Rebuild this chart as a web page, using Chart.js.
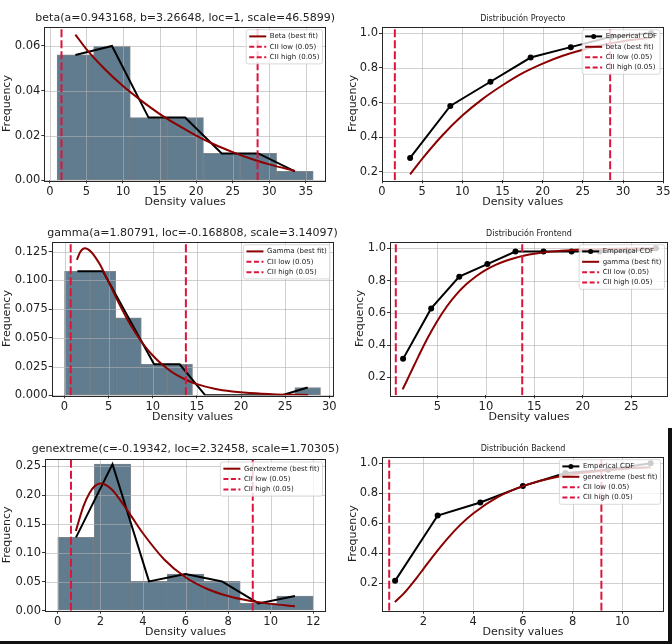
<!DOCTYPE html>
<html>
<head>
<meta charset="utf-8">
<script src="https://cdn.jsdelivr.net/npm/chart.js@4.4.1/dist/chart.umd.min.js"></script>
<style>
  body { margin: 0; background: #fff; }
  #wrap { position: relative; width: 672px; height: 644px; overflow: hidden; }
  #wrap canvas { position: absolute; }
  .edge { position: absolute; background: #111; }
</style>
</head>
<body>
<div id="wrap">
  <div class="edge" style="left:668px;top:428px;width:4px;height:216px"></div>
  <div class="edge" style="left:0;top:641px;width:672px;height:3px"></div>
</div>
<script>
// --- Proyecto (beta) ---
var projCenters = [3.5, 8.5, 13.5, 18.5, 23.5, 28.5, 33.5];
var projFreq = [0.056, 0.060, 0.028, 0.028, 0.012, 0.012, 0.004];
var projCdf = [0.28, 0.58, 0.72, 0.86, 0.92, 0.98, 1.0];
var projFitX = [3.5, 5, 7.5, 10, 12.5, 15, 17.5, 20, 22.5, 25, 27.5, 30, 33.5];
var projFitPdf = [0.0651, 0.0586, 0.0497, 0.0421, 0.0356, 0.0297, 0.0246, 0.0200, 0.0160, 0.0126, 0.0096, 0.0071, 0.0042];
var projFitCdf = [0.185, 0.275, 0.41, 0.525, 0.62, 0.70, 0.77, 0.825, 0.87, 0.905, 0.932, 0.954, 0.974];
var projCII = [1.6, 28.4];

// --- Frontend (gamma) ---
var frontCenters = [1.45, 4.35, 7.25, 10.15, 13.05, 15.95, 18.85, 21.75, 24.65, 27.55];
var frontFreq = [0.108, 0.108, 0.0675, 0.027, 0.027, 0, 0, 0, 0, 0.0068];
var frontCdf = [0.314, 0.627, 0.824, 0.902, 0.980, 0.980, 0.980, 0.980, 0.980, 1.0];
var frontFitX = [1.4, 1.8, 2.3, 3, 4, 5, 6, 7, 8, 9, 10, 11, 12, 13, 14, 15, 17, 19, 21, 24, 27.6];
var frontFitPdf = [0.118, 0.125, 0.128, 0.125, 0.114, 0.0985, 0.0826, 0.0678, 0.0549, 0.0438, 0.0346, 0.0272, 0.0212, 0.0164, 0.0127, 0.0097, 0.0057, 0.0033, 0.0019, 0.0008, 0.0003];
var frontFitCdf = [0.125, 0.174, 0.237, 0.325, 0.445, 0.551, 0.642, 0.717, 0.778, 0.827, 0.866, 0.897, 0.921, 0.940, 0.955, 0.966, 0.981, 0.989, 0.994, 0.997, 0.999];
var frontCII = [0.7, 13.75];

// --- Backend (genextreme) ---
var backCenters = [0.857, 2.571, 4.286, 6.0, 7.714, 9.429, 11.143];
var backFreq = [0.1268, 0.2536, 0.0507, 0.0634, 0.0507, 0.0127, 0.0254];
var backCdf = [0.217, 0.652, 0.739, 0.848, 0.935, 0.957, 1.0];
var backFitX = [0.85, 1.2, 1.5, 1.75, 2.0, 2.5, 3.0, 3.5, 4.0, 5.0, 6.0, 7.0, 8.0, 9.0, 10.0, 11.14];
var backFitPdf = [0.138, 0.180, 0.204, 0.216, 0.220, 0.211, 0.188, 0.161, 0.134, 0.0887, 0.0579, 0.0380, 0.0253, 0.0171, 0.0118, 0.0079];
var backFitCdf = [0.076, 0.132, 0.190, 0.242, 0.297, 0.405, 0.505, 0.593, 0.666, 0.776, 0.848, 0.895, 0.927, 0.947, 0.962, 0.973];
var backCII = [0.62, 9.16];

// tick labels
var projXTicks = [0, 5, 10, 15, 20, 25, 30, 35];
var projPdfYTicks = [0, 0.02, 0.04, 0.06];
var frontPdfXTicks = [0, 5, 10, 15, 20, 25, 30];
var frontCdfXTicks = [5, 10, 15, 20, 25];
var frontPdfYTicks = [0, 0.025, 0.05, 0.075, 0.1, 0.125];
var backPdfXTicks = [0, 2, 4, 6, 8, 10, 12];
var backCdfXTicks = [2, 4, 6, 8, 10];
var backPdfYTicks = [0, 0.05, 0.1, 0.15, 0.2, 0.25];
var cdfYTicks = [0.2, 0.4, 0.6, 0.8, 1.0];

Chart.defaults.font.family = "'DejaVu Sans', sans-serif";
Chart.defaults.color = '#222';

var BAR = '#607c8e', FIT = '#8b0000', CII = '#dc143c';
var wrap = document.getElementById('wrap');

function pts(xs, ys) {
  return xs.map(function (x, i) { return { x: x, y: ys[i] }; });
}

function ciiSets(c, yr) {
  return c.map(function (v, i) {
    return { type: 'line', data: [{ x: v, y: yr[0] }, { x: v, y: yr[1] }], borderColor: CII,
      borderWidth: 2, borderDash: [8, 3], pointRadius: 0, showLine: true, order: 1 - i };
  });
}

function pdfSets(centers, freq, fx, fy, c, yr) {
  return [
    { type: 'bar', data: pts(centers, freq), backgroundColor: BAR, borderColor: 'rgba(70,80,90,0.7)',
      borderWidth: 1, borderSkipped: false, barPercentage: 1, categoryPercentage: 1, order: 10 },
    { type: 'line', data: pts(centers, freq), borderColor: '#000', borderWidth: 2, pointRadius: 0,
      tension: 0, showLine: true, order: 3 },
    { type: 'line', data: pts(fx, fy), borderColor: FIT, borderWidth: 2, pointRadius: 0,
      cubicInterpolationMode: 'monotone', showLine: true, order: 2 }
  ].concat(ciiSets(c, yr));
}

function cdfSets(centers, cdf, fx, fy, c, yr) {
  return [
    { type: 'line', data: pts(centers, cdf), borderColor: '#000', borderWidth: 2, pointRadius: 3,
      pointBackgroundColor: '#000', pointBorderWidth: 0, tension: 0, showLine: true, order: 3 },
    { type: 'line', data: pts(fx, fy), borderColor: FIT, borderWidth: 2, pointRadius: 0,
      cubicInterpolationMode: 'monotone', showLine: true, order: 2 }
  ].concat(ciiSets(c, yr));
}

function legendItems(fitLabel, withCdf) {
  var items = [];
  if (withCdf) items.push({ label: 'Emperical CDF', color: '#000', marker: true });
  items.push({ label: fitLabel, color: FIT });
  items.push({ label: 'CII low (0.05)', color: CII, dash: [5, 2.5] });
  items.push({ label: 'CII high (0.05)', color: CII, dash: [5, 2.5] });
  return items;
}

function drawGrid(chart) {
  var ctx = chart.ctx, a = chart.chartArea, x = chart.scales.x, y = chart.scales.y;
  ctx.save();
  ctx.strokeStyle = 'rgba(176,176,176,0.6)';
  ctx.lineWidth = 1;
  ctx.beginPath();
  x.ticks.forEach(function (t) {
    var px = Math.round(x.getPixelForValue(t.value)) + 0.5;
    ctx.moveTo(px, a.top); ctx.lineTo(px, a.bottom);
  });
  y.ticks.forEach(function (t) {
    var py = Math.round(y.getPixelForValue(t.value)) + 0.5;
    ctx.moveTo(a.left, py); ctx.lineTo(a.right, py);
  });
  ctx.stroke();
  ctx.restore();
}

function drawLegend(chart, items) {
  var ctx = chart.ctx, a = chart.chartArea;
  ctx.save();
  ctx.font = "7px 'DejaVu Sans'";
  var tw = Math.max.apply(null, items.map(function (it) { return ctx.measureText(it.label).width; }));
  var rowH = 10.4, padY = 6.7;
  var w = 3 + 17 + 3.5 + tw + 3;
  var h = padY * 2 + rowH * (items.length - 1);
  var x0 = a.right - 3.5 - w, y0 = a.top + 3;
  ctx.beginPath();
  if (ctx.roundRect) ctx.roundRect(x0, y0, w, h, 2); else ctx.rect(x0, y0, w, h);
  ctx.fillStyle = 'rgba(255,255,255,0.8)';
  ctx.fill();
  ctx.strokeStyle = 'rgba(204,204,204,0.9)';
  ctx.lineWidth = 0.8;
  ctx.stroke();
  items.forEach(function (it, i) {
    var cy = y0 + padY + i * rowH;
    ctx.beginPath();
    ctx.strokeStyle = it.color;
    ctx.lineWidth = 2;
    ctx.setLineDash(it.dash || []);
    ctx.moveTo(x0 + 3, cy); ctx.lineTo(x0 + 20, cy);
    ctx.stroke();
    ctx.setLineDash([]);
    if (it.marker) {
      ctx.beginPath();
      ctx.fillStyle = it.color;
      ctx.arc(x0 + 11.5, cy, 2.5, 0, Math.PI * 2);
      ctx.fill();
    }
    ctx.fillStyle = '#222';
    ctx.textAlign = 'left';
    ctx.textBaseline = 'middle';
    ctx.fillText(it.label, x0 + 23.5, cy);
  });
  ctx.restore();
}

function panel(o) {
  var bx = o.box[0], by = o.box[1], bw = o.box[2], bh = o.box[3];
  var cv = document.createElement('canvas');
  cv.width = bw; cv.height = bh;
  cv.style.left = bx + 'px'; cv.style.top = by + 'px';
  wrap.appendChild(cv);
  var L = o.plot[0] - bx, T = o.plot[1] - by, R = bx + bw - o.plot[2], B = by + bh - o.plot[3];
  var hasBars = o.datasets.some(function (d) { return d.type === 'bar'; });

  var deco = {
    id: 'deco',
    beforeDatasetsDraw: function (chart) { if (!hasBars) drawGrid(chart); },
    afterDatasetDraw: function (chart, args) { if (args.meta.type === 'bar') drawGrid(chart); },
    afterDatasetsDraw: function (chart) {
      var ctx = chart.ctx, a = chart.chartArea;
      ctx.save();
      ctx.strokeStyle = '#262626';
      ctx.lineWidth = 1;
      ctx.strokeRect(Math.round(a.left) + 0.5, Math.round(a.top) + 0.5,
        Math.round(a.right - a.left) - 1, Math.round(a.bottom - a.top));
      ctx.fillStyle = '#222';
      ctx.font = o.titleSize + "px 'DejaVu Sans'";
      ctx.textAlign = 'center';
      ctx.textBaseline = 'middle';
      ctx.fillText(o.title, (a.left + a.right) / 2, o.titleY);
      ctx.restore();
      drawLegend(chart, o.legend);
    }
  };

  new Chart(cv, {
    type: 'scatter',
    data: { datasets: o.datasets },
    options: {
      responsive: false,
      animation: false,
      devicePixelRatio: 1,
      layout: { padding: { left: 0, top: T, right: R, bottom: 0 } },
      plugins: { legend: { display: false }, tooltip: { enabled: false } },
      scales: {
        x: {
          type: 'linear', min: o.xr[0], max: o.xr[1], offset: false,
          afterFit: function (s) { s.height = B; },
          afterBuildTicks: function (s) { s.ticks = o.xTicks.map(function (v) { return { value: v }; }); },
          grid: { offset: false, drawOnChartArea: false, tickLength: 3, tickColor: '#333' },
          border: { display: false },
          ticks: { font: { size: 11.5 }, padding: 1.5, color: '#222', maxRotation: 0,
            callback: function (v) { return Number(v).toFixed(0); } },
          title: { display: true, text: 'Density values', font: { size: 11 }, color: '#222',
            padding: { top: 0, bottom: 3.7 } }
        },
        y: {
          type: 'linear', min: o.yr[0], max: o.yr[1],
          afterFit: function (s) { s.width = L; },
          afterBuildTicks: function (s) { s.ticks = o.yTicks.map(function (v) { return { value: v }; }); },
          grid: { drawOnChartArea: false, tickLength: 3, tickColor: '#333' },
          border: { display: false },
          ticks: { font: { size: 11.5 }, padding: 1, color: '#222',
            callback: function (v) { return Number(v).toFixed(o.yDec); } },
          title: { display: true, text: 'Frequency', font: { size: 11 }, color: '#222',
            padding: { top: o.yTitleX - 6.6, bottom: 0 } }
        }
      }
    },
    plugins: [deco]
  });
}

// Proyecto
var p1y = [0, 0.0686];
panel({ box: [0, 0, 346, 212], plot: [44.3, 26.7, 326, 180.3], xr: [-0.75, 37.75], yr: p1y,
  xTicks: projXTicks, yTicks: projPdfYTicks, yDec: 2, yTitleX: 7.3,
  title: 'beta(a=0.943168, b=3.26648, loc=1, scale=46.5899)', titleSize: 11, titleY: 18.3,
  datasets: pdfSets(projCenters, projFreq, projFitX, projFitPdf, projCII, p1y),
  legend: [{ label: 'Beta (best fit)', color: FIT }, { label: 'CII low (0.05)', color: CII, dash: [5, 2.5] },
    { label: 'CII high (0.05)', color: CII, dash: [5, 2.5] }] });

var p2y = [0.151, 1.038];
panel({ box: [336, 0, 336, 212], plot: [382, 26.7, 664, 180.3], xr: [0, 35.05], yr: p2y,
  xTicks: projXTicks, yTicks: cdfYTicks, yDec: 1, yTitleX: 16.7,
  title: 'Distribución Proyecto', titleSize: 8, titleY: 19.3,
  datasets: cdfSets(projCenters, projCdf, projFitX, projFitCdf, projCII, p2y),
  legend: legendItems('beta (best fit)', true) });

// Frontend
var p3y = [0, 0.1337];
panel({ box: [0, 215, 346, 212], plot: [51.7, 241.7, 333.3, 395.3], xr: [-1.45, 30.45], yr: p3y,
  xTicks: frontPdfXTicks, yTicks: frontPdfYTicks, yDec: 3, yTitleX: 7.3,
  title: 'gamma(a=1.80791, loc=-0.168808, scale=3.14097)', titleSize: 11, titleY: 18.3,
  datasets: pdfSets(frontCenters, frontFreq, frontFitX, frontFitPdf, frontCII, p3y),
  legend: legendItems('Gamma (best fit)', false) });

var p4y = [0.088, 1.041];
panel({ box: [336, 215, 336, 212], plot: [390, 241.7, 669.5, 395.3], xr: [0.1, 28.8], yr: p4y,
  xTicks: frontCdfXTicks, yTicks: cdfYTicks, yDec: 1, yTitleX: 24,
  title: 'Distribución Frontend', titleSize: 8, titleY: 19.3,
  datasets: cdfSets(frontCenters, frontCdf, frontFitX, frontFitCdf, frontCII, p4y),
  legend: legendItems('gamma (best fit)', true) });

// Backend
var p5y = [0, 0.2625];
panel({ box: [0, 430, 346, 212], plot: [45, 459, 326, 610.7], xr: [-0.6, 12.6], yr: p5y,
  xTicks: backPdfXTicks, yTicks: backPdfYTicks, yDec: 2, yTitleX: 7.3,
  title: 'genextreme(c=-0.19342, loc=2.32458, scale=1.70305)', titleSize: 11, titleY: 19.3,
  datasets: pdfSets(backCenters, backFreq, backFitX, backFitPdf, backCII, p5y),
  legend: legendItems('Genextreme (best fit)', false) });

var p6y = [0.018, 1.044];
panel({ box: [336, 430, 336, 212], plot: [382, 456.7, 664, 610.7], xr: [0.33, 11.68], yr: p6y,
  xTicks: backCdfXTicks, yTicks: cdfYTicks, yDec: 1, yTitleX: 16.7,
  title: 'Distribución Backend', titleSize: 8, titleY: 19.3,
  datasets: cdfSets(backCenters, backCdf, backFitX, backFitCdf, backCII, p6y),
  legend: legendItems('genextreme (best fit)', true) });
</script>
</body>
</html>
